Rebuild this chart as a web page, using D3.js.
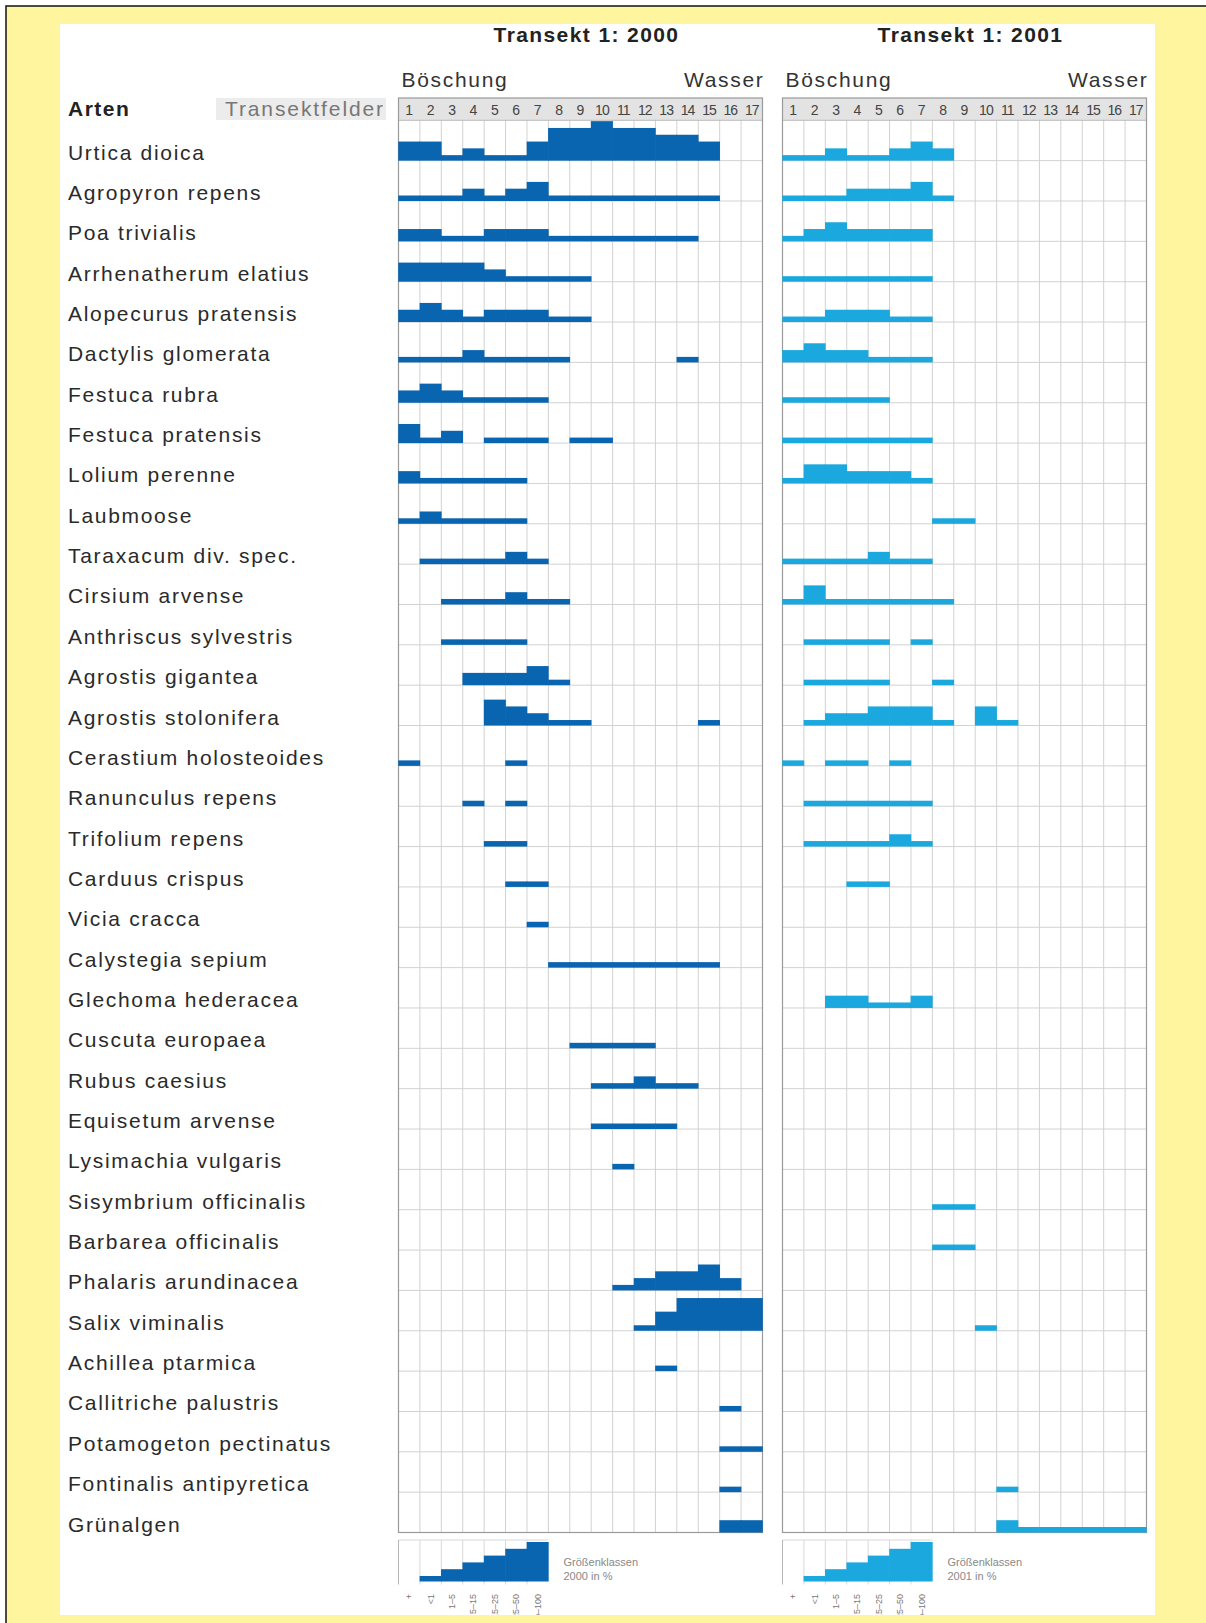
<!DOCTYPE html>
<html>
<head>
<meta charset="utf-8">
<script src="https://cdn.jsdelivr.net/npm/d3@7"></script>
<style>
  html, body { margin: 0; padding: 0; background: #fff; }
  svg { display: block; font-family: "Liberation Sans", Arial, sans-serif; }
</style>
</head>
<body>
<svg id="chart" width="1206" height="1623"></svg>
<script>
// Vegetation transect: cover class (0 = absent, 1..6) per species and transect field

const species = [
  "Urtica dioica", "Agropyron repens", "Poa trivialis", "Arrhenatherum elatius",
  "Alopecurus pratensis", "Dactylis glomerata", "Festuca rubra", "Festuca pratensis",
  "Lolium perenne", "Laubmoose", "Taraxacum div. spec.", "Cirsium arvense",
  "Anthriscus sylvestris", "Agrostis gigantea", "Agrostis stolonifera",
  "Cerastium holosteoides", "Ranunculus repens", "Trifolium repens", "Carduus crispus",
  "Vicia cracca", "Calystegia sepium", "Glechoma hederacea", "Cuscuta europaea",
  "Rubus caesius", "Equisetum arvense", "Lysimachia vulgaris", "Sisymbrium officinalis",
  "Barbarea officinalis", "Phalaris arundinacea", "Salix viminalis", "Achillea ptarmica",
  "Callitriche palustris", "Potamogeton pectinatus", "Fontinalis antipyretica", "Grünalgen"
];

const fields = d3.range(1, 18);

const cover2000 = [
  [3,3,1,2,1,1,3,5,5,6,5,5,4,4,3,0,0],
  [1,1,1,2,1,2,3,1,1,1,1,1,1,1,1,0,0],
  [2,2,1,1,2,2,2,1,1,1,1,1,1,1,0,0,0],
  [3,3,3,3,2,1,1,1,1,0,0,0,0,0,0,0,0],
  [2,3,2,1,2,2,2,1,1,0,0,0,0,0,0,0,0],
  [1,1,1,2,1,1,1,1,0,0,0,0,0,1,0,0,0],
  [2,3,2,1,1,1,1,0,0,0,0,0,0,0,0,0,0],
  [3,1,2,0,1,1,1,0,1,1,0,0,0,0,0,0,0],
  [2,1,1,1,1,1,0,0,0,0,0,0,0,0,0,0,0],
  [1,2,1,1,1,1,0,0,0,0,0,0,0,0,0,0,0],
  [0,1,1,1,1,2,1,0,0,0,0,0,0,0,0,0,0],
  [0,0,1,1,1,2,1,1,0,0,0,0,0,0,0,0,0],
  [0,0,1,1,1,1,0,0,0,0,0,0,0,0,0,0,0],
  [0,0,0,2,2,2,3,1,0,0,0,0,0,0,0,0,0],
  [0,0,0,0,4,3,2,1,1,0,0,0,0,0,1,0,0],
  [1,0,0,0,0,1,0,0,0,0,0,0,0,0,0,0,0],
  [0,0,0,1,0,1,0,0,0,0,0,0,0,0,0,0,0],
  [0,0,0,0,1,1,0,0,0,0,0,0,0,0,0,0,0],
  [0,0,0,0,0,1,1,0,0,0,0,0,0,0,0,0,0],
  [0,0,0,0,0,0,1,0,0,0,0,0,0,0,0,0,0],
  [0,0,0,0,0,0,0,1,1,1,1,1,1,1,1,0,0],
  [0,0,0,0,0,0,0,0,0,0,0,0,0,0,0,0,0],
  [0,0,0,0,0,0,0,0,1,1,1,1,0,0,0,0,0],
  [0,0,0,0,0,0,0,0,0,1,1,2,1,1,0,0,0],
  [0,0,0,0,0,0,0,0,0,1,1,1,1,0,0,0,0],
  [0,0,0,0,0,0,0,0,0,0,1,0,0,0,0,0,0],
  [0,0,0,0,0,0,0,0,0,0,0,0,0,0,0,0,0],
  [0,0,0,0,0,0,0,0,0,0,0,0,0,0,0,0,0],
  [0,0,0,0,0,0,0,0,0,0,1,2,3,3,4,2,0],
  [0,0,0,0,0,0,0,0,0,0,0,1,3,5,5,5,5],
  [0,0,0,0,0,0,0,0,0,0,0,0,1,0,0,0,0],
  [0,0,0,0,0,0,0,0,0,0,0,0,0,0,0,1,0],
  [0,0,0,0,0,0,0,0,0,0,0,0,0,0,0,1,1],
  [0,0,0,0,0,0,0,0,0,0,0,0,0,0,0,1,0],
  [0,0,0,0,0,0,0,0,0,0,0,0,0,0,0,2,2]
];

const cover2001 = [
  [1,1,2,1,1,2,3,2,0,0,0,0,0,0,0,0,0],
  [1,1,1,2,2,2,3,1,0,0,0,0,0,0,0,0,0],
  [1,2,3,2,2,2,2,0,0,0,0,0,0,0,0,0,0],
  [1,1,1,1,1,1,1,0,0,0,0,0,0,0,0,0,0],
  [1,1,2,2,2,1,1,0,0,0,0,0,0,0,0,0,0],
  [2,3,2,2,1,1,1,0,0,0,0,0,0,0,0,0,0],
  [1,1,1,1,1,0,0,0,0,0,0,0,0,0,0,0,0],
  [1,1,1,1,1,1,1,0,0,0,0,0,0,0,0,0,0],
  [1,3,3,2,2,2,1,0,0,0,0,0,0,0,0,0,0],
  [0,0,0,0,0,0,0,1,1,0,0,0,0,0,0,0,0],
  [1,1,1,1,2,1,1,0,0,0,0,0,0,0,0,0,0],
  [1,3,1,1,1,1,1,1,0,0,0,0,0,0,0,0,0],
  [0,1,1,1,1,0,1,0,0,0,0,0,0,0,0,0,0],
  [0,1,1,1,1,0,0,1,0,0,0,0,0,0,0,0,0],
  [0,1,2,2,3,3,3,1,0,3,1,0,0,0,0,0,0],
  [1,0,1,1,0,1,0,0,0,0,0,0,0,0,0,0,0],
  [0,1,1,1,1,1,1,0,0,0,0,0,0,0,0,0,0],
  [0,1,1,1,1,2,1,0,0,0,0,0,0,0,0,0,0],
  [0,0,0,1,1,0,0,0,0,0,0,0,0,0,0,0,0],
  [0,0,0,0,0,0,0,0,0,0,0,0,0,0,0,0,0],
  [0,0,0,0,0,0,0,0,0,0,0,0,0,0,0,0,0],
  [0,0,2,2,1,1,2,0,0,0,0,0,0,0,0,0,0],
  [0,0,0,0,0,0,0,0,0,0,0,0,0,0,0,0,0],
  [0,0,0,0,0,0,0,0,0,0,0,0,0,0,0,0,0],
  [0,0,0,0,0,0,0,0,0,0,0,0,0,0,0,0,0],
  [0,0,0,0,0,0,0,0,0,0,0,0,0,0,0,0,0],
  [0,0,0,0,0,0,0,1,1,0,0,0,0,0,0,0,0],
  [0,0,0,0,0,0,0,1,1,0,0,0,0,0,0,0,0],
  [0,0,0,0,0,0,0,0,0,0,0,0,0,0,0,0,0],
  [0,0,0,0,0,0,0,0,0,1,0,0,0,0,0,0,0],
  [0,0,0,0,0,0,0,0,0,0,0,0,0,0,0,0,0],
  [0,0,0,0,0,0,0,0,0,0,0,0,0,0,0,0,0],
  [0,0,0,0,0,0,0,0,0,0,0,0,0,0,0,0,0],
  [0,0,0,0,0,0,0,0,0,0,1,0,0,0,0,0,0],
  [0,0,0,0,0,0,0,0,0,0,2,1,1,1,1,1,1]
];

// size-class legend: one step per class
const legendLevels = [0, 1, 2, 3, 4, 5, 6];
const legendLabels = ["+", "<1", "1–5", "5–15", "15–25", "25–50", "50–100"];

const panels = [
  { title: "Transekt 1: 2000", year: "2000", x0: 398.5, data: cover2000, color: "#0a65b0" },
  { title: "Transekt 1: 2001", year: "2001", x0: 782.5, data: cover2001, color: "#1aa8de" },
];

const PANEL_W = 364;
const HEAD_TOP = 98, GRID_TOP = 120.3, GRID_BOTTOM = 1532.5;
const LEG_TOP = 1540, LEG_BASE = 1581.5;

const svg = d3.select("#chart");

// page background: yellow card with black frame, white sheet
svg.append("rect").attr("x", 6).attr("y", 6).attr("width", 1300).attr("height", 1700)
  .attr("fill", "#fff59e").attr("stroke", "#111").attr("stroke-width", 1.5);
svg.append("rect").attr("x", 60).attr("y", 24).attr("width", 1095).attr("height", 1591)
  .attr("fill", "#fff");

svg.append("clipPath").attr("id", "sheet")
  .append("rect").attr("x", 60).attr("y", 24).attr("width", 1095).attr("height", 1591);

const y = d3.scaleBand().domain(species).range([GRID_TOP, GRID_BOTTOM]);
const h = d3.scaleLinear().domain([1, 6]).range([5.5, 39.5]);

// row labels
svg.append("g").selectAll("text").data(species).join("text")
  .attr("x", 68)
  .attr("y", (d) => y(d) + y.bandwidth() - 1)
  .attr("fill", "#2a2a2a")
  .style("font-size", "21px")
  .style("letter-spacing", "1.7px")
  .text((d) => d);

svg.append("text").attr("x", 68).attr("y", 116)
  .style("font-size", "21px").style("font-weight", "bold").style("letter-spacing", "1.5px")
  .attr("fill", "#222")
  .text("Arten");

svg.append("rect").attr("x", 216).attr("y", 98).attr("width", 170).attr("height", 22)
  .attr("fill", "#ececec");
svg.append("text").attr("x", 385).attr("y", 116).attr("text-anchor", "end")
  .style("font-size", "21px").style("letter-spacing", "1.9px").attr("fill", "#777")
  .text("Transektfelder");

panels.forEach((p) => {
  const x = d3.scaleBand().domain(fields).range([p.x0, p.x0 + PANEL_W]);
  const g = svg.append("g");

  g.append("text").attr("x", p.x0 + 188).attr("y", 42).attr("text-anchor", "middle")
    .style("font-size", "21px").style("font-weight", "bold").style("letter-spacing", "1.4px")
    .attr("fill", "#222")
    .text(p.title);
  g.append("text").attr("x", p.x0 + 3).attr("y", 87)
    .style("font-size", "21px").style("letter-spacing", "1.7px").attr("fill", "#333").text("Böschung");
  g.append("text").attr("x", p.x0 + PANEL_W + 2).attr("y", 87).attr("text-anchor", "end")
    .style("font-size", "21px").style("letter-spacing", "1.7px").attr("fill", "#333").text("Wasser");

  // field number band
  g.append("rect").attr("x", p.x0).attr("y", HEAD_TOP).attr("width", PANEL_W)
    .attr("height", GRID_TOP - HEAD_TOP).attr("fill", "#e3e3e3");
  g.append("g").selectAll("text").data(fields).join("text")
    .attr("x", (d) => x(d) + x.bandwidth() / 2)
    .attr("y", 115)
    .attr("text-anchor", "middle")
    .style("font-size", "14px")
    .style("letter-spacing", (d) => (d > 9 ? "-1px" : "0"))
    .attr("fill", "#444")
    .text((d) => d);

  // grid
  g.append("g").selectAll("line").data(d3.range(1, 17)).join("line")
    .attr("x1", (d) => x(d) + x.bandwidth()).attr("x2", (d) => x(d) + x.bandwidth())
    .attr("y1", GRID_TOP).attr("y2", GRID_BOTTOM)
    .attr("stroke", "#d2d2d2").attr("stroke-width", 1);
  g.append("g").selectAll("line").data(species).join("line")
    .attr("x1", p.x0).attr("x2", p.x0 + PANEL_W)
    .attr("y1", (d) => y(d) + y.bandwidth()).attr("y2", (d) => y(d) + y.bandwidth())
    .attr("stroke", "#d2d2d2").attr("stroke-width", 1);
  g.append("line").attr("x1", p.x0).attr("x2", p.x0 + PANEL_W)
    .attr("y1", GRID_TOP).attr("y2", GRID_TOP).attr("stroke", "#bbb");
  g.append("rect").attr("x", p.x0).attr("y", HEAD_TOP).attr("width", PANEL_W)
    .attr("height", GRID_BOTTOM - HEAD_TOP).attr("fill", "none")
    .attr("stroke", "#9a9a9a").attr("stroke-width", 1.2);

  // cover bars
  const cells = [];
  species.forEach((sp, i) => {
    p.data[i].forEach((v, j) => { if (v > 0) cells.push({ sp, field: fields[j], v }); });
  });
  g.append("g").selectAll("rect").data(cells).join("rect")
    .attr("x", (d) => x(d.field) - 0.3)
    .attr("width", x.bandwidth() + 0.6)
    .attr("y", (d) => y(d.sp) + y.bandwidth() - h(d.v))
    .attr("height", (d) => h(d.v))
    .attr("fill", p.color);

  // size-class legend
  const lg = g.append("g");
  const legFields = fields.slice(0, legendLevels.length);
  lg.append("g").selectAll("line").data(legFields.slice(1)).join("line")
    .attr("x1", (d) => x(d)).attr("x2", (d) => x(d))
    .attr("y1", LEG_TOP).attr("y2", LEG_BASE + 3)
    .attr("stroke", "#d8d8d8");
  lg.append("line").attr("x1", p.x0).attr("x2", x(legFields[legFields.length - 1]) + x.bandwidth())
    .attr("y1", LEG_TOP).attr("y2", LEG_TOP).attr("stroke", "#d8d8d8");
  lg.append("line").attr("x1", p.x0).attr("x2", p.x0)
    .attr("y1", LEG_TOP).attr("y2", LEG_BASE + 3).attr("stroke", "#b5b5b5");
  lg.append("g").selectAll("rect").data(legendLevels.map((v, i) => ({ v, field: legFields[i] })).filter((d) => d.v > 0))
    .join("rect")
    .attr("x", (d) => x(d.field) - 0.3)
    .attr("width", x.bandwidth() + 0.6)
    .attr("y", (d) => LEG_BASE - h(d.v))
    .attr("height", (d) => h(d.v))
    .attr("fill", p.color);
  lg.append("text").attr("x", p.x0 + 165).attr("y", 1566)
    .style("font-size", "11px").attr("fill", "#888").text("Größenklassen");
  lg.append("text").attr("x", p.x0 + 165).attr("y", 1580)
    .style("font-size", "11px").attr("fill", "#888").text(`${p.year} in %`);
  lg.append("g").attr("clip-path", "url(#sheet)")
    .selectAll("text").data(legendLabels).join("text")
    .attr("transform", (d, i) => `translate(${x(legFields[i]) + x.bandwidth() / 2 + 3},1594) rotate(-90)`)
    .attr("text-anchor", "end")
    .style("font-size", "9px")
    .attr("fill", "#777")
    .text((d) => d);
});
</script>
</body>
</html>
